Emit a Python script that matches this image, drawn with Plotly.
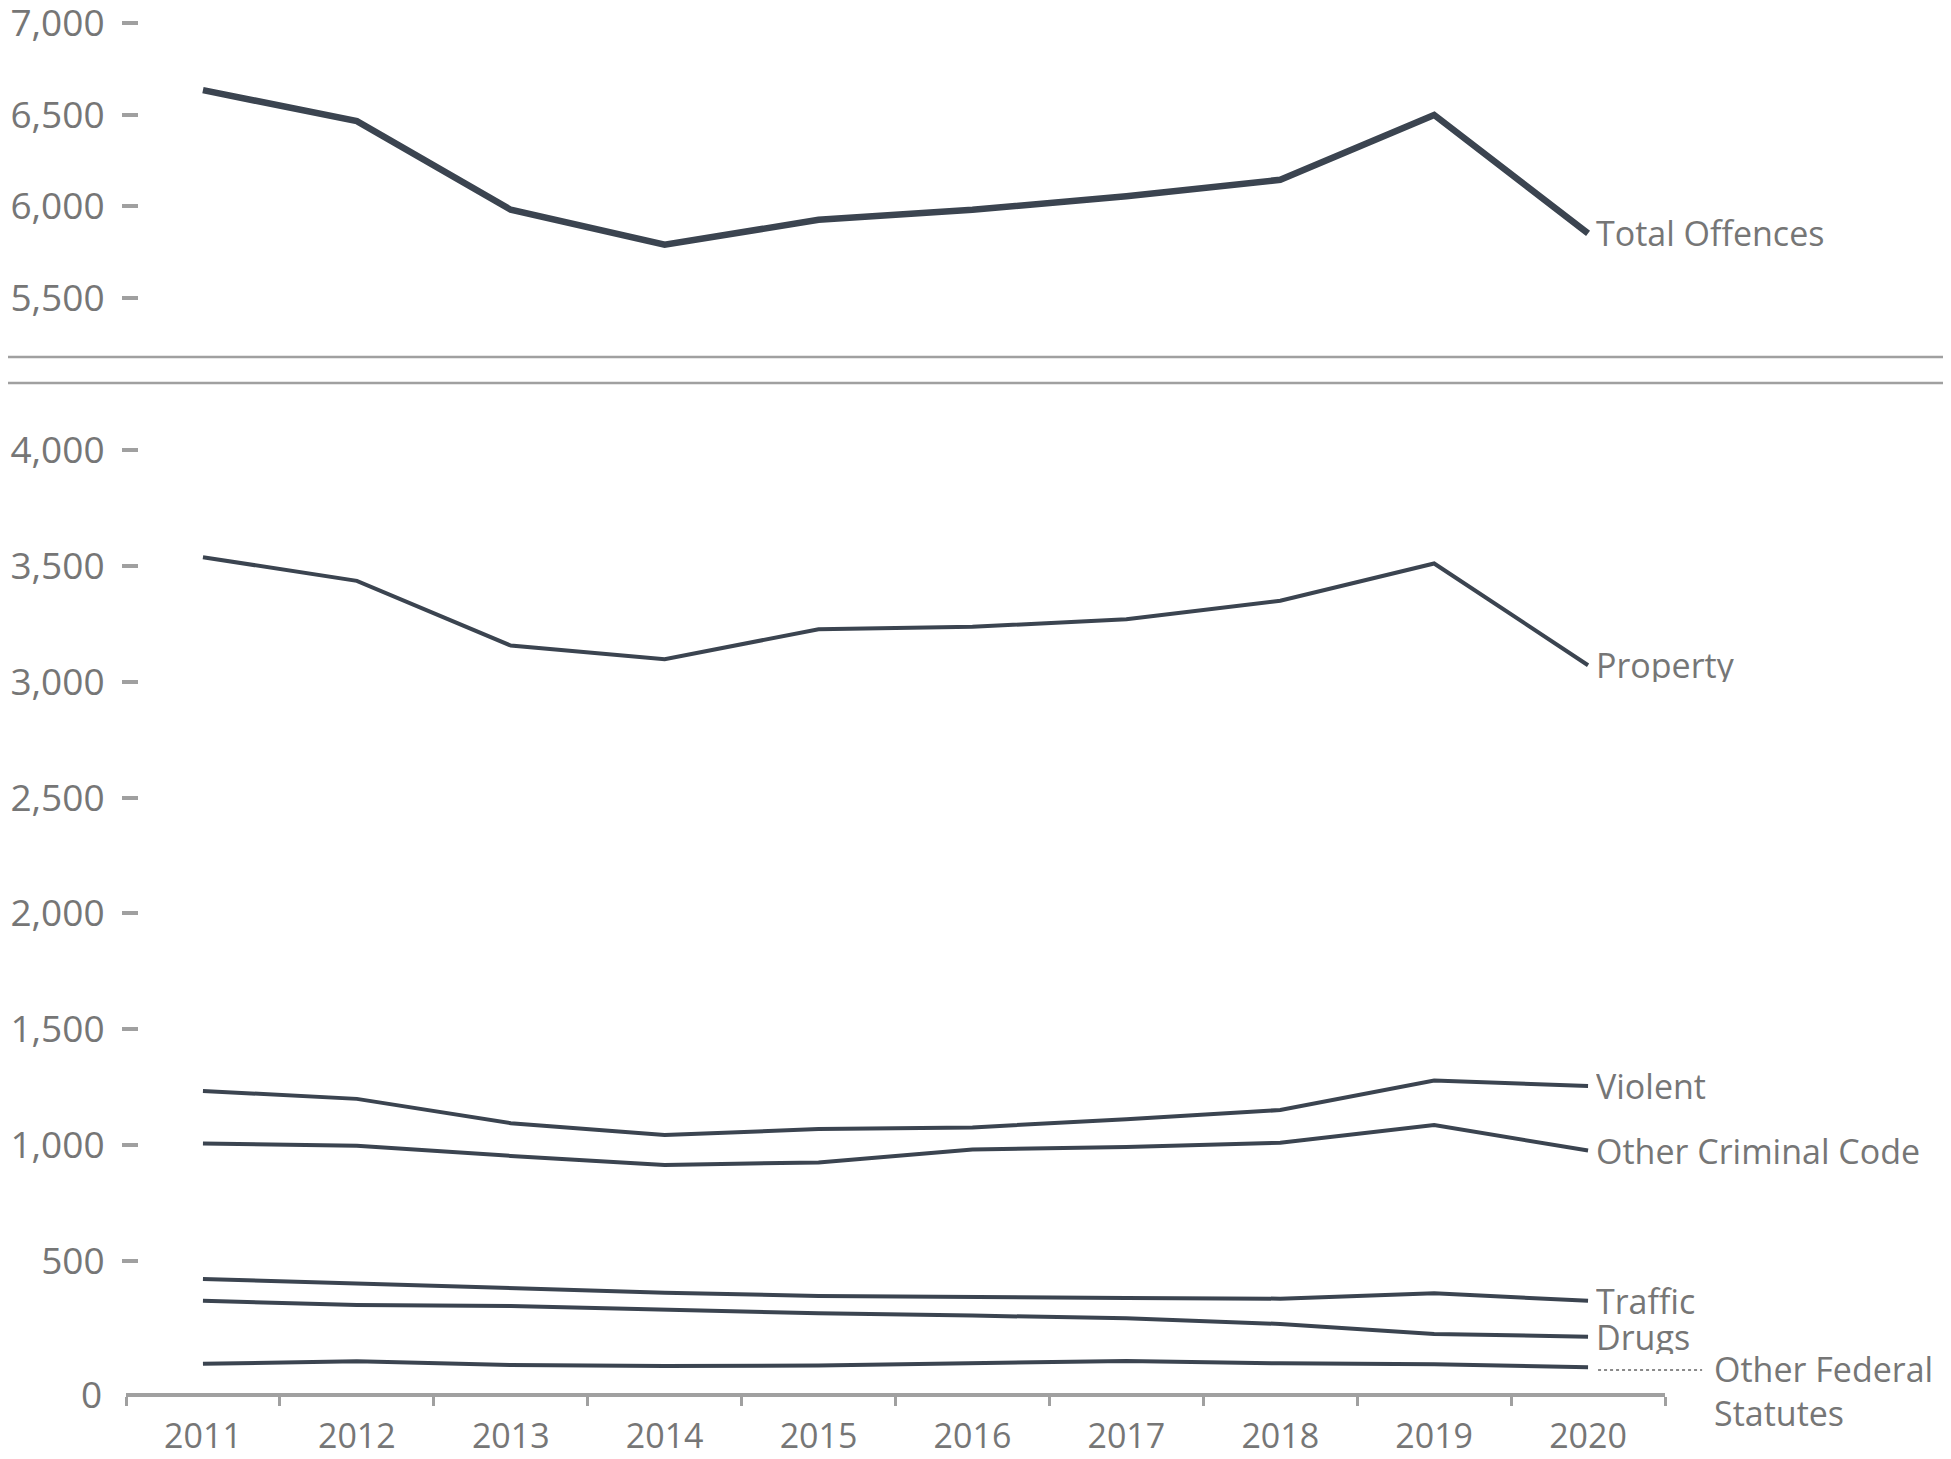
import plotly.graph_objects as go

years = ["2011", "2012", "2013", "2014", "2015", "2016", "2017", "2018", "2019", "2020"]

total_offences = [6633, 6464, 5982, 5792, 5927, 5982, 6056, 6145, 6498, 5853]
property_ = [3537, 3435, 3156, 3097, 3226, 3237, 3269, 3349, 3510, 3071]
violent = [1234, 1200, 1095, 1044, 1070, 1077, 1112, 1152, 1279, 1256]
other_cc = [1007, 998, 954, 915, 926, 982, 992, 1011, 1087, 977]
traffic = [423, 404, 385, 364, 350, 344, 341, 338, 361, 329]
drugs = [329, 311, 306, 289, 275, 265, 253, 229, 186, 174]
other_fed = [57, 68, 52, 47, 50, 59, 69, 59, 55, 42]

top_ticks = [5500, 6000, 6500, 7000]
bottom_ticks = [500, 1000, 1500, 2000, 2500, 3000, 3500, 4000]

LINE = "#3b4450"
AXIS = "#a0a0a0"
TXT = "#767676"
FONT = "Open Sans"

fig = go.Figure()

lower = [
    ("Property", property_),
    ("Violent", violent),
    ("Other Criminal Code", other_cc),
    ("Traffic", traffic),
    ("Drugs", drugs),
    ("Other Federal Statutes", other_fed),
]
for name, vals in lower:
    fig.add_trace(go.Scatter(x=years, y=vals, mode="lines", name=name,
                             line=dict(color=LINE, width=4),
                             xaxis="x", yaxis="y", showlegend=False, hoverinfo="skip"))

fig.add_trace(go.Scatter(x=years, y=total_offences, mode="lines", name="Total Offences",
                         line=dict(color=LINE, width=6.5),
                         xaxis="x2", yaxis="y2", showlegend=False, hoverinfo="skip"))

ytick_common = dict(
    ticks="outside", ticklen=16, tickwidth=4, tickcolor=AXIS,
    showline=False, showgrid=False, zeroline=False, automargin=False,
    tickformat=",", tickfont=dict(family=FONT, size=37, color=TXT),
    anchor="free", position=0.0078, ticklabelstandoff=10,
    ticklabeloverflow="allow",
)

fig.update_layout(
    width=1951, height=1459,
    margin=dict(l=118, r=294, t=0, b=74, autoexpand=False),
    plot_bgcolor="white", paper_bgcolor="white",
    xaxis=dict(domain=[0, 1], type="category", range=[-0.5, 9.5], anchor="y",
               tickson="boundaries", ticks="outside", ticklen=9, tickwidth=3, tickcolor=AXIS,
               showline=True, linecolor=AXIS, linewidth=4, showgrid=False, zeroline=False,
               ticklabelstandoff=10, automargin=False,
               tickfont=dict(family=FONT, size=34, color=TXT)),
    xaxis2=dict(domain=[0, 1], type="category", range=[-0.5, 9.5], anchor="y2",
                matches="x", visible=False, automargin=False),
    yaxis=dict(domain=[0, 0.7144], range=[-69, 4200], tickvals=bottom_ticks, **ytick_common),
    yaxis2=dict(domain=[0.7506, 1.0], range=[5200, 7080], tickvals=top_ticks, **ytick_common),
)

# axis break lines
for yp in [0.7480, 0.7292]:
    fig.add_shape(type="line", xref="paper", yref="paper", x0=-0.0819, x1=1.186, y0=yp, y1=yp,
                  line=dict(color=AXIS, width=2.5))

# "0" label at the axis baseline
fig.add_annotation(xref="paper", yref="paper", x=-0.0143, y=0, text="0", showarrow=False,
                   xanchor="right", yanchor="middle", font=dict(family=FONT, size=37, color=TXT))

last = len(years) - 1
lab_font = dict(family=FONT, size=34, color=TXT)
fig.add_annotation(x=last, y=total_offences[-1], xref="x2", yref="y2", text="Total Offences",
                   showarrow=False, xanchor="left", yanchor="middle", xshift=6, font=lab_font)
for name, vals in lower[:-1]:
    fig.add_annotation(x=last, y=vals[-1], xref="x", yref="y", text=name, height=34,
                       showarrow=False, xanchor="left", yanchor="middle", xshift=6, font=lab_font)

fig.add_annotation(x=last, y=other_fed[-1], xref="x", yref="y", text="Other Federal<br>Statutes",
                   showarrow=False, xanchor="left", yanchor="top", xshift=124, yshift=23,
                   align="left", font=lab_font)
# dotted leader from the end of the Other Federal Statutes line to its label
fig.add_shape(type="line", xref="paper", yref="paper", x0=0.9565, x1=1.0241, y0=0.0166, y1=0.0166,
              line=dict(color="#8a8a8a", width=2, dash="dot"))

fig.write_html("out.html")
